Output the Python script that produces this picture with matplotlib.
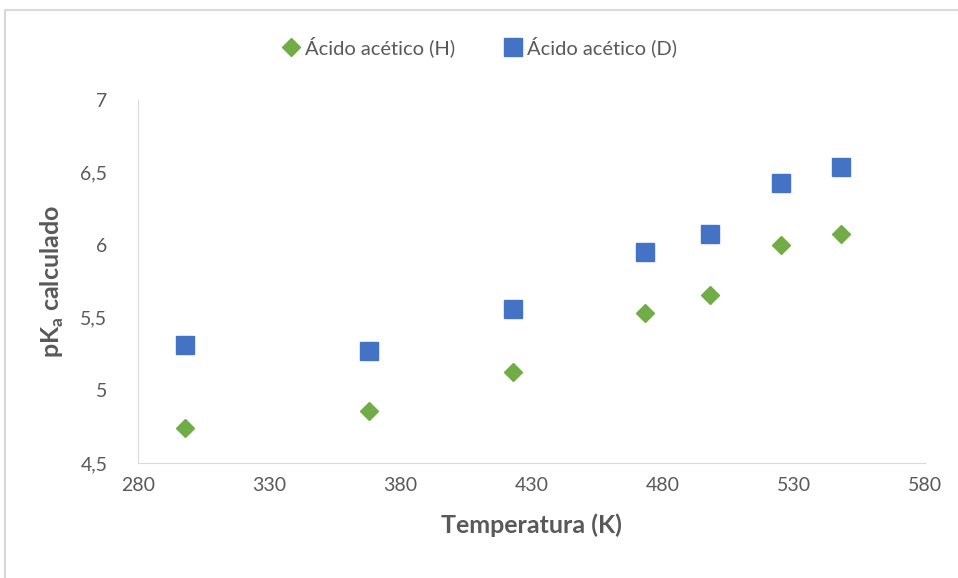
import matplotlib
matplotlib.use("Agg")
import matplotlib.pyplot as plt
from matplotlib.ticker import FuncFormatter, MultipleLocator
from matplotlib.patches import Rectangle

temp_k = [298, 368, 423, 473, 498, 525, 548]
pka_h = [4.74, 4.86, 5.13, 5.53, 5.66, 6.00, 6.08]
pka_d = [5.31, 5.27, 5.56, 5.95, 6.08, 6.43, 6.54]
x_ticks = [280, 330, 380, 430, 480, 530, 580]

grey = "#595959"
plt.rcParams['font.family'] = ['Lato', 'DejaVu Sans']

fig = plt.figure(figsize=(9.58, 5.78), dpi=100)
ax = fig.add_axes([0.144, 0.199, 0.822, 0.628])

ax.plot(temp_k, pka_h, linestyle="none", marker="D", markersize=9,
        color="#70AD47", label="Ácido acético (H)")
ax.plot(temp_k, pka_d, linestyle="none", marker="s", markersize=13.5,
        color="#4472C4", label="Ácido acético (D)")

ax.set_xlim(280, 580)
ax.set_ylim(4.5, 7)
ax.set_xticks(x_ticks)
ax.yaxis.set_major_locator(MultipleLocator(0.5))
comma = FuncFormatter(lambda v, p: f"{v:g}".replace(".", ","))
ax.xaxis.set_major_formatter(comma)
ax.yaxis.set_major_formatter(comma)
ax.tick_params(length=0, labelsize=14, labelcolor=grey, pad=10)
ax.tick_params(axis="y", pad=22)

for s in ["top", "right"]:
    ax.spines[s].set_visible(False)
for s in ["left", "bottom"]:
    ax.spines[s].set_color("#D9D9D9")

ax.set_xlabel("Temperatura (K)", fontsize=18, fontweight="bold", color=grey, labelpad=14)
ax.set_ylabel("pK$_\\mathregular{a}$ calculado", fontsize=18, fontweight="bold", color=grey, labelpad=10)

fig.legend(loc="center", bbox_to_anchor=(0.5, 0.919), ncol=2, frameon=False,
           fontsize=14.5, labelcolor=grey, handletextpad=0.2, columnspacing=2.4,
           handlelength=1.0)

fig.patches.append(Rectangle((5 / 958, -0.1), 1.0, 1 - 10 / 578 + 0.1,
                             transform=fig.transFigure, fill=False,
                             edgecolor="#D9D9D9", linewidth=1.5))

fig.savefig("out.png", dpi=100)
